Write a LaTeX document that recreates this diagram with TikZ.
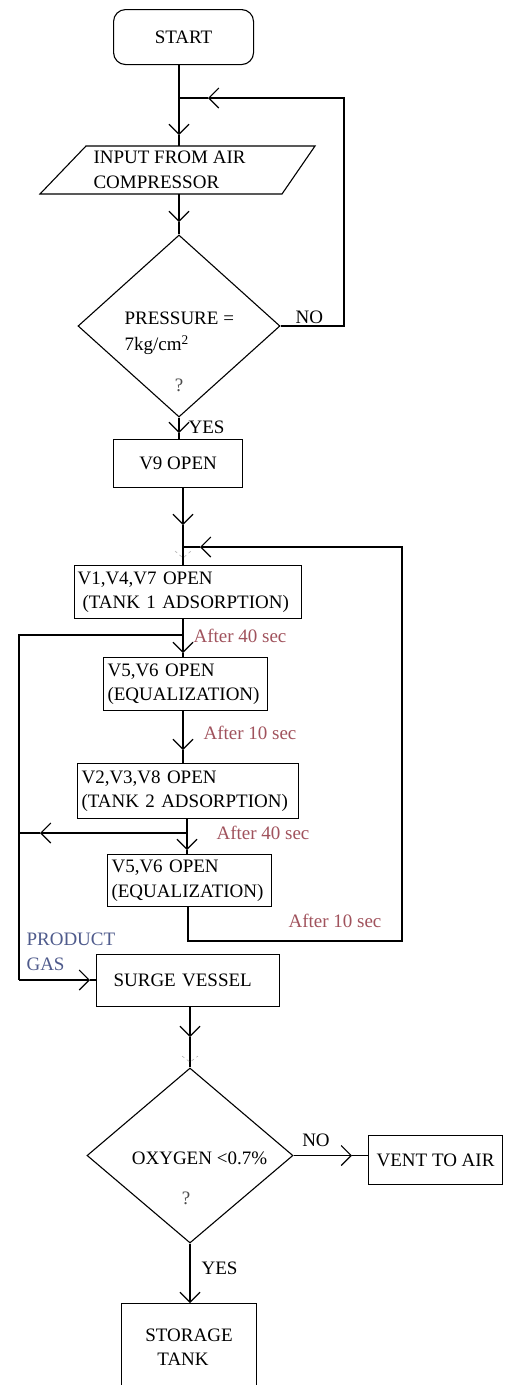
\documentclass[tikz,border=0pt]{standalone}
\usepackage{fontspec}
\setmainfont{Liberation Serif}
\usetikzlibrary{arrows.meta,shapes.geometric}
\definecolor{afterc}{HTML}{A0525C}
\definecolor{prodc}{HTML}{4F5B8C}
\begin{document}
\begin{tikzpicture}[x=1pt,y=-1pt,line width=1.1pt,
  every node/.style={font=\fontsize{19}{24.5}\selectfont, inner sep=0pt},
  box/.style={draw, anchor=north west, align=left},
  cbox/.style={draw, anchor=north west, align=center},
  arr/.style={-{Straight Barb[length=10pt,width=20pt]}},
  aftertxt/.style={text=afterc, anchor=west},
  prodtxt/.style={text=prodc, anchor=west, align=left},
  lbl/.style={anchor=west},
  dec/.style={draw, shape=diamond},
  faint/.style={gray!60, dashed, line width=0.6pt}
]
\useasboundingbox (0,0) rectangle (504,1385);
\clip (0,0) rectangle (504,1385);

% ---- nodes ----
\node[cbox, minimum width=140, minimum height=55, rounded corners=12] (start) at (113,9) {START};
\draw (86,146) -- (315,146) -- (282,194) -- (40,194) -- cycle;
\node[lbl, align=left] (input) at (93,170) {INPUT FROM AIR\\COMPRESSOR};
\node[dec, minimum width=202, minimum height=182] (d1) at (179,326) {};
\node[lbl] (pr1) at (124,318) {PRESSURE =};
\node[lbl] (pr2) at (124,345) {7kg/cm\textsuperscript{2}};
\node[text=black!70] (qm1) at (179,385) {?};
\node[lbl] (no1) at (295,317) {NO};
\node[lbl] (yes1) at (188,427) {YES};
\node[cbox, minimum width=129, minimum height=48] (v9) at (113,439) {V9 OPEN};
\node[box, text width=221pt, inner xsep=3pt, minimum height=53] (b1) at (74,565) {V1,V4,V7 OPEN\\\hspace*{5pt}(TANK 1 ADSORPTION)};
\node[box, text width=156pt, inner xsep=4pt, minimum height=53] (b2) at (103,657) {V5,V6 OPEN\\(EQUALIZATION)};
\node[box, text width=213pt, inner xsep=4pt, minimum height=55] (b3) at (77,763) {V2,V3,V8 OPEN\\(TANK 2 ADSORPTION)};
\node[box, text width=156pt, inner xsep=4pt, minimum height=52] (b4) at (107,854) {V5,V6 OPEN\\(EQUALIZATION)};
\node[aftertxt] (t1) at (193,636) {After 40 sec};
\node[aftertxt] (t2) at (203,733) {After 10 sec};
\node[aftertxt] (t3) at (216,833) {After 40 sec};
\node[aftertxt] (t4) at (288,921) {After 10 sec};
\node[prodtxt] (pg) at (26,952) {PRODUCT\\GAS};
\node[box, text width=149pt, inner xsep=17pt, minimum height=52] (surge) at (96,954) {SURGE VESSEL};
\node[dec, minimum width=206, minimum height=175] (d2) at (190,1155.5) {};
\node (ox) at (199.5,1158) {OXYGEN <0.7\%};
\node[text=black!70] (qm2) at (186,1198) {?};
\node (no2) at (316,1140) {NO};
\node[cbox, minimum width=134, minimum height=49] (vent) at (368,1135) {VENT TO AIR};
\node[lbl] (yes2) at (201,1268) {YES};
\node[cbox, minimum width=135, minimum height=87] (store) at (121,1303) {STORAGE\\TANK\hspace*{12pt}};

% ---- coordinates ----
\coordinate (j1) at (179,98);
\coordinate (a1) at (179,135);
\coordinate (intop) at (179,146);
\coordinate (inbot) at (179,194);
\coordinate (a2) at (179,222);
\coordinate (l1) at (344,98);
\coordinate (a3) at (208,98);
\coordinate (a4) at (179,433);
\coordinate (j2) at (183,547);
\coordinate (a5) at (183,525);
\coordinate (j3) at (183,635);
\coordinate (a6) at (183,653);
\coordinate (p1) at (19,635);
\coordinate (p2) at (19,980);
\coordinate (a7) at (90,980);
\coordinate (a8) at (183,750);
\coordinate (j4) at (187,833);
\coordinate (a9) at (187,850);
\coordinate (a10) at (40,833);
\coordinate (p3) at (19,833);
\coordinate (q1) at (188,941);
\coordinate (q2) at (402,941);
\coordinate (q3) at (402,547);
\coordinate (a11) at (200,547);
\coordinate (a12) at (190,1037);
\coordinate (a13) at (352,1155.5);

% ---- connectors ----
\draw (j1 |- start.south) -- (j1);
\draw[arr] (j1) -- (a1);
\draw (a1) -- (intop);
\draw[arr] (inbot) -- (a2);
\draw (a2) -- (d1.north);
\draw[arr] (d1.east) -| (l1) -- (a3);
\draw (a3) -- (j1);
\draw[arr] (d1.south) -- (a4);
\draw (a4) -- (a4 |- v9.north);
\draw[arr] (j2 |- v9.south) -- (a5);
\draw (a5) -- (j2) -- (j2 |- b1.north);
\draw (j3 |- b1.south) -- (j3);
\draw[arr] (j3) -- (a6);
\draw (a6) -- (a6 |- b2.north);
\draw (j3) -- (p1) -- (p2);
\draw[arr] (p2) -- (a7);
\draw (a7) -- (a7 -| surge.west);
\draw[arr] (a8 |- b2.south) -- (a8);
\draw (a8) -- (a8 |- b3.north);
\draw (j4 |- b3.south) -- (j4);
\draw[arr] (j4) -- (a9);
\draw (a9) -- (a9 |- b4.north);
\draw[arr] (j4) -- (a10);
\draw (a10) -- (p3);
\draw[arr] (q1 |- b4.south) -- (q1) -- (q2) -- (q3) -- (a11);
\draw (a11) -- (j2);
\draw[arr] (a12 |- surge.south) -- (a12);
\draw (a12) -- (d2.north);
\draw[arr] (d2.east) -- (a13);
\draw (a13) -- (a13 -| vent.west);
\draw[arr] (d2.south) -- (d2.south |- store.north);

% faint marks
\draw[faint] (175,551) -- (183,558) -- (191,551);
\draw[faint] (182,1056) -- (190,1062) -- (198,1056);
\end{tikzpicture}
\end{document}
